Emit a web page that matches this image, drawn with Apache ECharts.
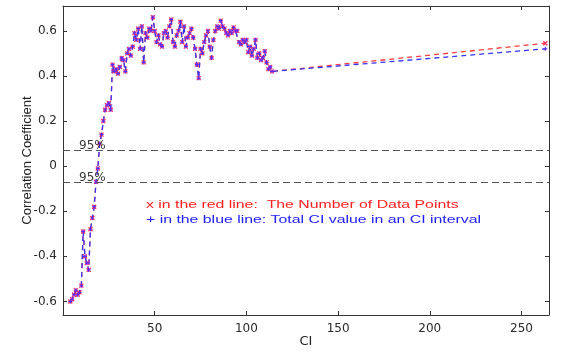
<!DOCTYPE html>
<html>
<head>
<meta charset="utf-8">
<script src="https://cdn.jsdelivr.net/npm/echarts@6/dist/echarts.min.js"></script>
<style>
  html, body { margin: 0; padding: 0; background: #fff; }
  #chart { width: 571px; height: 353px; }
</style>
</head>
<body>
<div id="chart"></div>
<script>
// CI values on the x axis
const ciValues = [
  4, 5, 6, 7, 8, 9, 10, 11, 12, 13, 14, 15, 16, 17, 18, 19, 20, 21, 22, 23,
  24, 25, 26, 27, 28, 29, 30, 31, 32, 33, 34, 35, 36, 37, 38, 39, 40, 41, 42, 43,
  44, 45, 46, 47, 48, 49, 50, 51, 52, 53, 54, 55, 56, 57, 58, 59, 60, 61, 62, 63,
  64, 65, 66, 67, 68, 69, 70, 71, 72, 73, 74, 75, 76, 77, 78, 79, 80, 81, 82, 83,
  84, 85, 86, 87, 88, 89, 90, 91, 92, 93, 94, 95, 96, 97, 98, 99, 100, 101, 102, 103,
  104, 105, 106, 107, 108, 109, 110, 111, 112, 113, 114, 263
]
// x : number of data points (red)
const redValues = [
  -0.60, -0.59, -0.57, -0.55, -0.57, -0.56, -0.53, -0.29, -0.40, -0.43, -0.46, -0.28, -0.23, -0.18, -0.07, -0.01, 0.10, 0.14, 0.20, 0.25,
  0.27, 0.28, 0.25, 0.45, 0.42, 0.43, 0.41, 0.44, 0.48, 0.47, 0.42, 0.50, 0.52, 0.49, 0.53, 0.59, 0.56, 0.61, 0.52, 0.62,
  0.46, 0.59, 0.57, 0.61, 0.60, 0.66, 0.60, 0.55, 0.58, 0.54, 0.53, 0.59, 0.60, 0.57, 0.62, 0.65, 0.55, 0.53, 0.58, 0.60,
  0.64, 0.55, 0.62, 0.53, 0.57, 0.59, 0.61, 0.57, 0.52, 0.45, 0.39, 0.52, 0.50, 0.55, 0.58, 0.60, 0.53, 0.48, 0.56, 0.60,
  0.62, 0.61, 0.645, 0.62, 0.61, 0.59, 0.58, 0.60, 0.59, 0.615, 0.60, 0.60, 0.55, 0.54, 0.56, 0.55, 0.56, 0.505, 0.53, 0.49,
  0.52, 0.56, 0.48, 0.50, 0.47, 0.48, 0.51, 0.46, 0.43, 0.44, 0.42, 0.545
]
// + : total CI value (blue), same points except the last one
const blueValues = redValues.slice(0, -1).concat([0.52])

const rowsRed = ciValues.map((c, i) => [c, redValues[i]])
const rowsBlue = ciValues.map((c, i) => [c, blueValues[i]])

const xTicks = [50, 100, 150, 200, 250]
const yTicks = [-0.6, -0.4, -0.2, 0, 0.2, 0.4, 0.6]
const confLimit = 0.07

const axisColor = '#333'
const chart = echarts.init(document.getElementById('chart'))

function boxAxis(pos, isX, showLabel) {
  const ax = {
    type: 'value',
    position: pos,
    min: isX ? 0 : -0.66,
    max: isX ? 265 : 0.71,
    axisLine: { show: true, onZero: false, lineStyle: { color: axisColor, width: 1 } },
    axisTick: {
      show: true, inside: true, length: 4,
      customValues: isX ? xTicks : yTicks,
      lineStyle: { color: axisColor }
    },
    axisLabel: {
      show: showLabel,
      customValues: isX ? xTicks : yTicks,
      color: '#2a2a2a',
      fontFamily: 'DejaVu Sans',
      fontSize: 12,
      margin: isX ? 8 : 6
    },
    splitLine: { show: false }
  }
  if (showLabel) {
    ax.name = isX ? 'CI' : 'Correlation Coefficient'
    ax.nameLocation = 'middle'
    ax.nameGap = isX ? 20 : 29
    ax.nameMoveOverlap = false
    ax.nameTextStyle = {
      color: '#222',
      fontFamily: isX ? 'DejaVu Sans' : 'Liberation Sans Narrow, Liberation Sans',
      fontSize: 13
    }
  }
  return ax
}

const markX = 'path://M0,0L10,10M10,0L0,10'
const markPlus = 'path://M5,0L5,10M0,5L10,5'

chart.setOption({
  animation: false,
  backgroundColor: '#fff',
  grid: { left: 63, right: 22, top: 6, bottom: 38 },
  xAxis: [boxAxis('bottom', true, true), boxAxis('top', true, false)],
  yAxis: [boxAxis('left', false, true), boxAxis('right', false, false)],
  series: [
    {
      name: 'red',
      type: 'line',
      data: rowsRed,
      symbol: markX,
      symbolSize: 4,
      itemStyle: { color: '#ff2a5a', borderColor: '#ff2a5a', borderWidth: 1.2 },
      lineStyle: { color: '#ff3b3b', width: 1.3, type: [5, 4] },
      markLine: {
        silent: true,
        symbol: 'none',
        lineStyle: { color: '#555', width: 1.2, type: [7, 4] },
        label: {
          position: 'insideStartTop',
          formatter: '95%',
          color: '#3a3a3a',
          fontFamily: 'DejaVu Sans',
          fontSize: 12,
          distance: [16, -2]
        },
        data: [{ yAxis: confLimit }, { yAxis: -confLimit }]
      }
    },
    {
      name: 'blue',
      type: 'line',
      data: rowsBlue,
      symbol: markPlus,
      symbolSize: 4,
      itemStyle: { color: '#5a2aff', borderColor: '#5a2aff', borderWidth: 1.1 },
      lineStyle: { color: '#3434ff', width: 1.3, type: [5, 4] }
    }
  ],
  graphic: [
    {
      type: 'text', left: 146, top: 199, scaleX: 1.44,
      style: { text: 'x in the red line:  The Number of Data Points', fill: '#ff2020', font: '11px Liberation Sans' }
    },
    {
      type: 'text', left: 146, top: 214, scaleX: 1.44,
      style: { text: '+ in the blue line: Total CI value in an CI interval', fill: '#2020ff', font: '11px Liberation Sans' }
    }
  ]
})
</script>
</body>
</html>
